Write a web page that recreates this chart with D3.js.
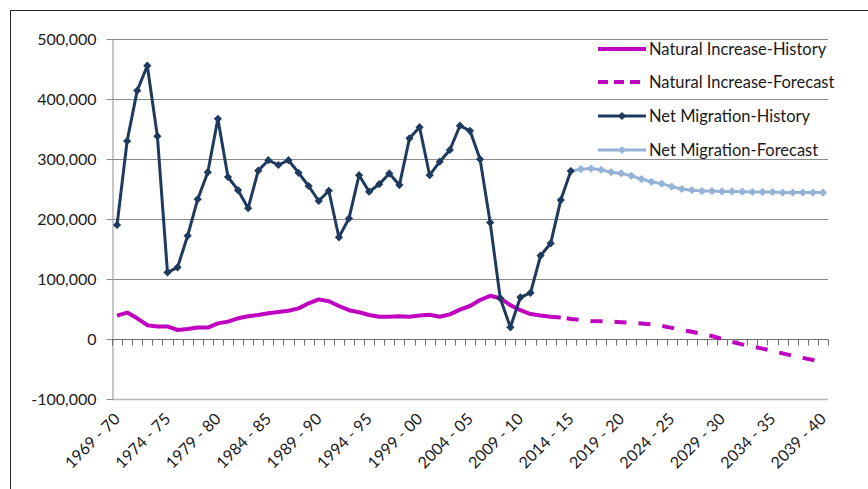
<!DOCTYPE html>
<html>
<head>
<meta charset="utf-8">
<script src="https://cdn.jsdelivr.net/npm/d3@7/dist/d3.min.js"></script>
<style>
  html, body { margin: 0; padding: 0; background: #fff; }
  svg { display: block; }
  text { font-family: Lato, "Open Sans", sans-serif; fill: #1a1a1a; }
</style>
</head>
<body>
<svg id="chart" width="868" height="489"></svg>
<script>
const categories = [
  "1969 - 70","1970 - 71","1971 - 72","1972 - 73","1973 - 74","1974 - 75","1975 - 76","1976 - 77","1977 - 78","1978 - 79",
  "1979 - 80","1980 - 81","1981 - 82","1982 - 83","1983 - 84","1984 - 85","1985 - 86","1986 - 87","1987 - 88","1988 - 89",
  "1989 - 90","1990 - 91","1991 - 92","1992 - 93","1993 - 94","1994 - 95","1995 - 96","1996 - 97","1997 - 98","1998 - 99",
  "1999 - 00","2000 - 01","2001 - 02","2002 - 03","2003 - 04","2004 - 05","2005 - 06","2006 - 07","2007 - 08","2008 - 09",
  "2009 - 10","2010 - 11","2011 - 12","2012 - 13","2013 - 14","2014 - 15","2015 - 16","2016 - 17","2017 - 18","2018 - 19",
  "2019 - 20","2020 - 21","2021 - 22","2022 - 23","2023 - 24","2024 - 25","2025 - 26","2026 - 27","2027 - 28","2028 - 29",
  "2029 - 30","2030 - 31","2031 - 32","2032 - 33","2033 - 34","2034 - 35","2035 - 36","2036 - 37","2037 - 38","2038 - 39",
  "2039 - 40"
];
const tickLabels = ["1969 - 70","1974 - 75","1979 - 80","1984 - 85","1989 - 90","1994 - 95","1999 - 00","2004 - 05",
  "2009 - 10","2014 - 15","2019 - 20","2024 - 25","2029 - 30","2034 - 35","2039 - 40"];
const yTicks = [-100000, 0, 100000, 200000, 300000, 400000, 500000];

// Natural Increase-History: 1969-70 .. 2013-14
const naturalHistory = [39000,44000,34500,23000,21000,21000,15000,16500,19000,19000,
  26000,29000,34500,38000,40000,43000,45000,47000,51000,59500,
  66000,63000,55000,48000,44500,40000,37000,37000,38000,37000,
  39000,40500,37000,41000,49000,55000,65000,72000,68000,56500,
  48000,41500,39000,37000,36000];
// Natural Increase-Forecast: 2013-14 .. 2039-40
const naturalForecast = [36000,33500,31500,30000,29500,29000,28000,27000,26000,24500,
  22000,18500,15000,12000,8500,5000,0,-5000,-9000,-12500,
  -16000,-20000,-24000,-28000,-31500,-35000,-38500];
// Net Migration-History: 1969-70 .. 2014-15
const migrationHistory = [190000,330000,414000,455500,338000,111000,119500,172000,233000,278000,
  367000,270000,248000,218000,280500,298000,290000,298000,277000,255000,
  230000,247000,169500,201000,273000,245500,258000,276000,256500,334500,
  353000,273000,295500,315000,355500,347000,299500,194000,68000,19500,
  69500,77000,139000,159500,231500,280000];
// Net Migration-Forecast: 2014-15 .. 2039-40
const migrationForecast = [280000,283000,284000,282000,278000,276000,272000,266500,262000,259000,
  254000,250000,248000,246500,246500,246000,246000,245500,245000,245000,
  245000,244000,244000,244000,244000,244000];

const seriesNames = ["Natural Increase-History","Natural Increase-Forecast","Net Migration-History","Net Migration-Forecast"];

(function () {
const svg = d3.select("#chart");
const pLeft = 112, pRight = 828, pTop = 39, pBottom = 399;
const fs = "16px";

const x = d3.scaleBand().domain(categories).range([pLeft, pRight]).padding(0);
const cx = c => x(c) + x.bandwidth() / 2;
const y = d3.scaleLinear().domain([-100000, 500000]).range([pBottom, pTop]);

// frame
svg.append("line").attr("x1", 10.5).attr("x2", 10.5).attr("y1", 10).attr("y2", 489).attr("stroke", "#222").attr("stroke-width", 1);
svg.append("line").attr("x1", 10).attr("x2", 868).attr("y1", 10.5).attr("y2", 10.5).attr("stroke", "#222").attr("stroke-width", 1);

// gridlines
svg.append("g").selectAll("line").data(yTicks.filter(v => v !== 0 && v !== -100000)).join("line")
  .attr("x1", pLeft).attr("x2", pRight)
  .attr("y1", d => Math.round(y(d)) + 0.5).attr("y2", d => Math.round(y(d)) + 0.5)
  .attr("stroke", "#8c8c8c").attr("stroke-width", 1);
svg.append("line").attr("x1", pLeft).attr("x2", pRight)
  .attr("y1", Math.round(y(-100000)) + 0.5).attr("y2", Math.round(y(-100000)) + 0.5)
  .attr("stroke", "#b4b4b4").attr("stroke-width", 1.5);

// y axis
const yAxis = svg.append("g").attr("transform", `translate(${pLeft + 0.5},0)`)
  .call(d3.axisLeft(y).tickValues(yTicks).tickSize(6).tickSizeOuter(0).tickPadding(10)
    .tickFormat(d => d3.format(",")(d).replace("\u2212", "-")));
yAxis.select(".domain").attr("stroke", "#8c8c8c");
yAxis.selectAll(".tick line").attr("stroke", "#8c8c8c");
yAxis.selectAll(".tick text").style("font-family", "Lato, sans-serif").style("font-size", fs).attr("fill", "#1a1a1a");

// zero line with category boundary ticks
const y0 = Math.round(y(0)) + 0.5;
svg.append("line").attr("x1", pLeft).attr("x2", pRight).attr("y1", y0).attr("y2", y0).attr("stroke", "#6e6e6e").attr("stroke-width", 1);
const bounds = categories.map(c => x(c)).concat([x(categories[categories.length - 1]) + x.bandwidth()]);
svg.append("g").selectAll("line").data(bounds).join("line")
  .attr("x1", d => Math.round(d) + 0.5).attr("x2", d => Math.round(d) + 0.5)
  .attr("y1", y0).attr("y2", y0 + 6).attr("stroke", "#6e6e6e").attr("stroke-width", 1);

// x labels
svg.append("g").selectAll("text").data(tickLabels).join("text")
  .attr("transform", d => `translate(${cx(d) + 4},${pBottom + 21}) rotate(-45)`)
  .attr("text-anchor", "end")
  .style("font-size", fs)
  .text(d => d);

// lines
const line = d3.line().x(d => cx(d.c)).y(d => y(d.v));
const nh = naturalHistory.map((v, i) => ({ c: categories[i], v }));
const nf = naturalForecast.map((v, i) => ({ c: categories[44 + i], v }));
const mh = migrationHistory.map((v, i) => ({ c: categories[i], v }));
const mf = migrationForecast.map((v, i) => ({ c: categories[45 + i], v }));

const purple = "#c000c0", navy = "#1f3a5f", lightBlue = "#95b3d7";

svg.append("path").datum(nh).attr("d", line).attr("fill", "none").attr("stroke", purple).attr("stroke-width", 4).attr("stroke-linejoin", "round");
svg.append("path").datum(nf).attr("d", line).attr("fill", "none").attr("stroke", purple).attr("stroke-width", 4)
  .attr("stroke-dasharray", "0 6 12 6").attr("stroke-linecap", "butt");

const diamond = d3.symbol().type(d3.symbolSquare).size(34);

svg.append("path").datum(mf).attr("d", line).attr("fill", "none").attr("stroke", lightBlue).attr("stroke-width", 3);
svg.append("g").selectAll("path").data(mf).join("path")
  .attr("d", diamond).attr("transform", d => `translate(${cx(d.c)},${y(d.v)}) rotate(45)`).attr("fill", lightBlue);

svg.append("path").datum(mh).attr("d", line).attr("fill", "none").attr("stroke", navy).attr("stroke-width", 3).attr("stroke-linejoin", "round");
svg.append("g").selectAll("path").data(mh).join("path")
  .attr("d", diamond).attr("transform", d => `translate(${cx(d.c)},${y(d.v)}) rotate(45)`).attr("fill", navy);

// legend
const legY = [49, 82, 116, 150];
const legStyles = [
  { stroke: purple, w: 4, dash: null, marker: false },
  { stroke: purple, w: 4, dash: "10 6", marker: false },
  { stroke: navy, w: 3, dash: null, marker: true },
  { stroke: lightBlue, w: 3, dash: null, marker: true }
];
const leg = svg.append("g");
seriesNames.forEach((name, i) => {
  const s = legStyles[i];
  const ly = legY[i];
  const ln = leg.append("line").attr("x1", 598).attr("x2", 646).attr("y1", ly).attr("y2", ly)
    .attr("stroke", s.stroke).attr("stroke-width", s.w);
  if (s.dash) ln.attr("stroke-dasharray", s.dash);
  if (s.marker) leg.append("path").attr("d", diamond).attr("transform", `translate(622,${ly}) rotate(45)`).attr("fill", s.stroke);
  leg.append("text").attr("x", 649).attr("y", ly + 5.5).style("font-size", "16.5px").text(name);
});
})();
</script>
</body>
</html>
